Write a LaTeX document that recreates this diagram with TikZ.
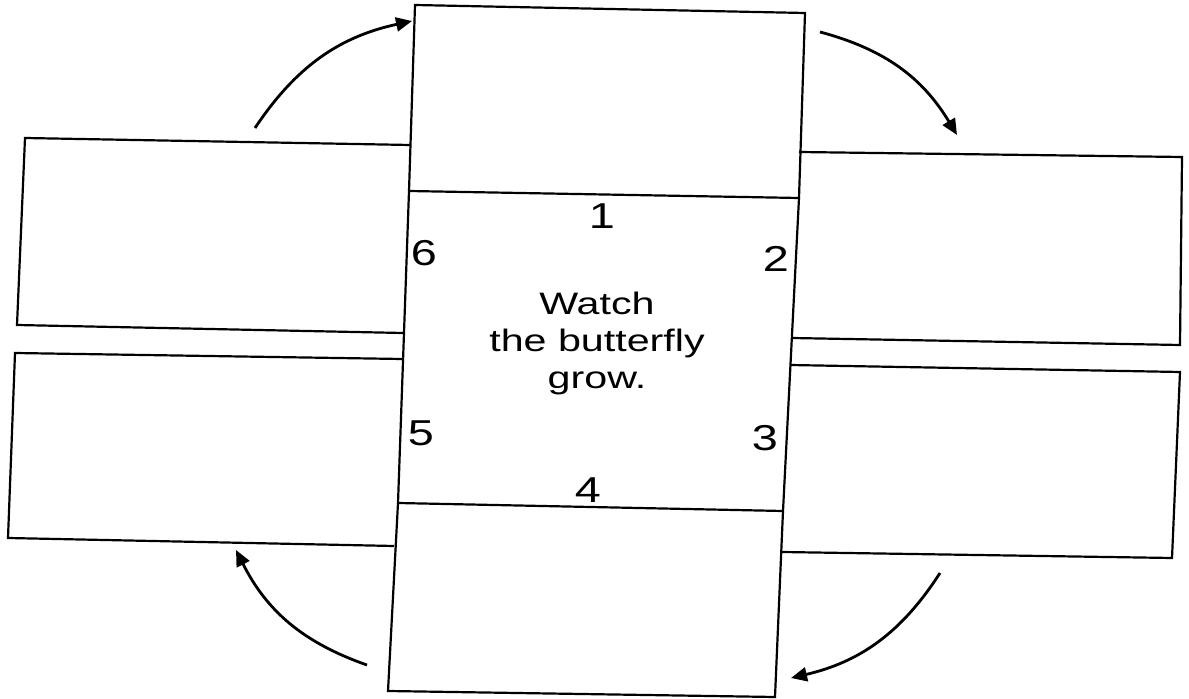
\documentclass[tikz,border=0pt]{standalone}
\usepackage{fontspec}
\setmainfont{Liberation Sans}
\usetikzlibrary{arrows.meta}
\tikzset{
  frame/.style={
    draw,
    line width=1.1pt,
    line join=miter,
  },
  num/.style={font=\fontsize{18}{20}\selectfont, xscale=1.3, inner sep=0pt},
  caption/.style={
    align=center,
    font=\fontsize{15.5}{18.5}\selectfont,
    xscale=1.33,
    inner sep=0pt,
  },
  arr/.style={-{Triangle[length=8pt, width=7pt]}, line width=1.4pt},
}

\begin{document}
\begin{tikzpicture}[x=0.5pt, y=0.5pt]
\useasboundingbox (0,0) rectangle (1189,-699);

% Centre strip (three cells stacked)
\coordinate (ctl) at (415,-5);
\coordinate (ctr) at (805,-13);
\coordinate (cr1) at (799,-198);
\coordinate (cr2) at (783,-511);
\coordinate (cbr) at (775,-697);
\coordinate (cbl) at (388,-691);
\coordinate (cl2) at (398,-503);
\coordinate (cl1) at (409,-191);
\draw[frame] (ctl) -- (ctr) -- (cr1) -- (cr2) -- (cbr) -- (cbl) -- (cl2) -- (cl1) -- cycle;
\draw[frame] (cl1) -- (cr1);
\draw[frame] (cl2) -- (cr2);

% Side cells, each closed by the strip
\draw[frame] (410,-145) -- (25,-138) -- (17,-325) -- (403,-333);     % left, top
\draw[frame] (402,-359) -- (15,-353) -- (8,-538) -- (394,-546);      % left, bottom
\draw[frame] (799,-152) -- (1182,-157) -- (1180,-345) -- (792,-338); % right, top
\draw[frame] (790,-365) -- (1180,-372) -- (1172,-558) -- (782,-552); % right, bottom

% Labels
\node[caption] (title) at (597,-343) {Watch\\the butterfly\\grow.};
\node[num] (n1) at (602,-216) {1};
\node[num] (n2) at (776,-259) {2};
\node[num] (n3) at (765,-438) {3};
\node[num] (n4) at (588,-490) {4};
\node[num] (n5) at (421,-433) {5};
\node[num] (n6) at (424,-253) {6};

% --- Cycle arrows ------------------------------------------------------
\coordinate (a1s) at (255,-128);  \coordinate (a1e) at (412,-21);
\coordinate (a2s) at (820,-32);   \coordinate (a2e) at (957,-135);
\coordinate (a3s) at (940,-573);  \coordinate (a3e) at (791,-678);
\coordinate (a4s) at (367,-665);  \coordinate (a4e) at (236,-550);
\foreach \a/\b in {a1s/a1e, a2s/a2e, a3s/a3e, a4s/a4e}
  {\draw[arr] (\a) to[bend left=22] (\b);}

\end{tikzpicture}
\end{document}
